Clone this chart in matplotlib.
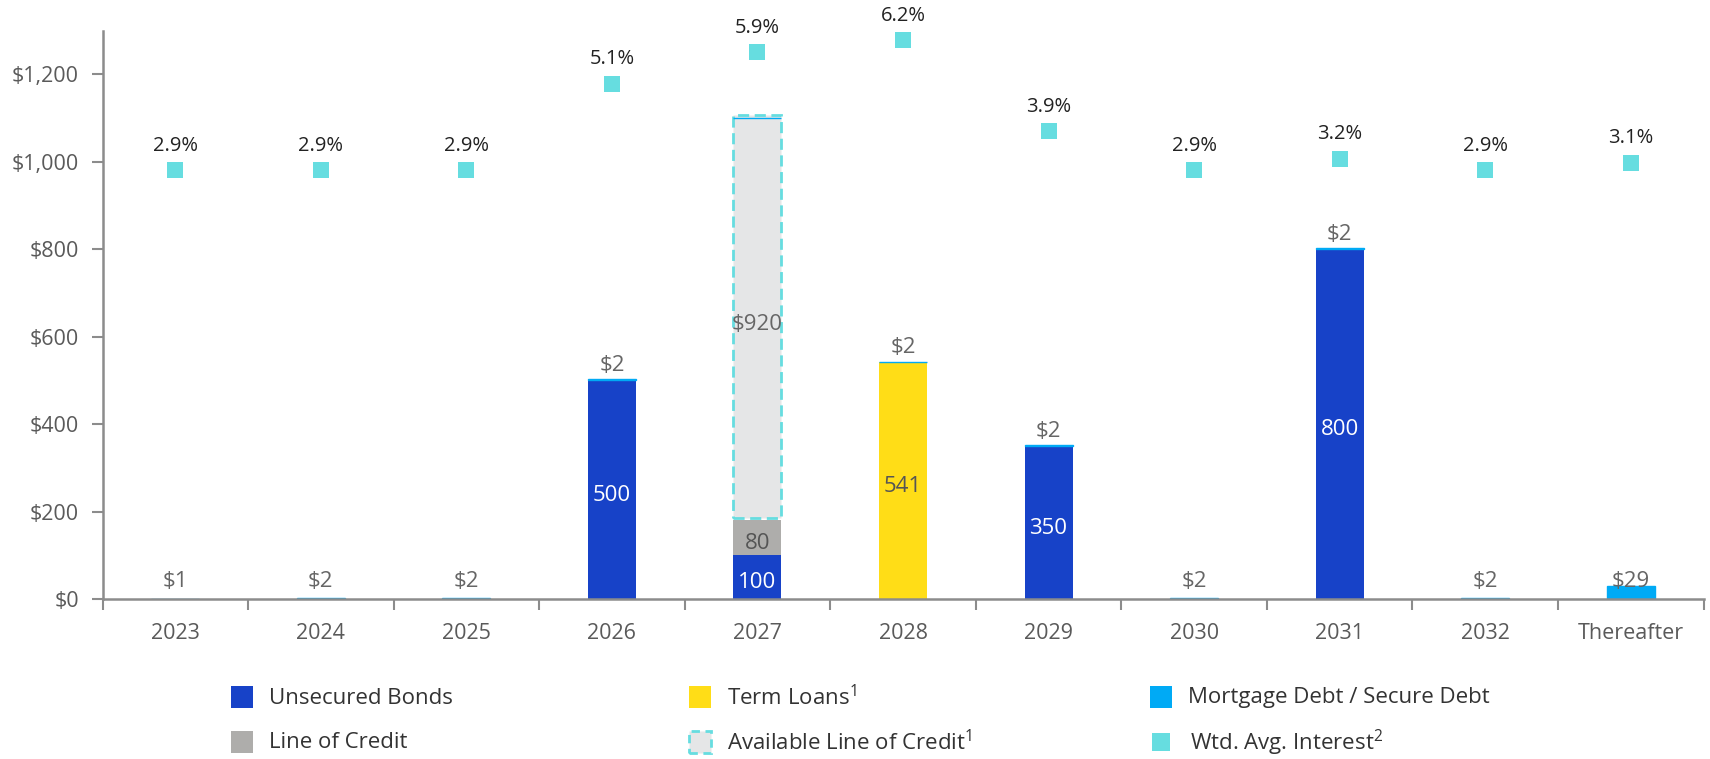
import matplotlib
matplotlib.use("Agg")
import matplotlib.pyplot as plt
from matplotlib.patches import Rectangle
import numpy as np

plt.rcParams['font.family'] = ['Open Sans', 'DejaVu Sans']
plt.rcParams['mathtext.fontset'] = 'custom'
plt.rcParams['mathtext.rm'] = 'Open Sans'
plt.rcParams['mathtext.it'] = 'Open Sans'

# ---------------- data ----------------
categories = ["2023", "2024", "2025", "2026", "2027", "2028", "2029",
              "2030", "2031", "2032", "Thereafter"]
unsecured_bonds = [0, 0, 0, 500, 100, 0, 350, 0, 800, 0, 0]
term_loans = [0, 0, 0, 0, 0, 541, 0, 0, 0, 0, 0]
line_of_credit = [0, 0, 0, 0, 80, 0, 0, 0, 0, 0, 0]
available_line_of_credit = [0, 0, 0, 0, 920, 0, 0, 0, 0, 0, 0]
mortgage_debt = [1, 2, 2, 2, 0, 2, 2, 2, 2, 2, 29]
wtd_avg_interest = [2.9, 2.9, 2.9, 5.1, 5.9, 6.2, 3.9, 2.9, 3.2, 2.9, 3.1]
y_ticks = [0, 200, 400, 600, 800, 1000, 1200]
y_tick_labels = ["$0", "$200", "$400", "$600", "$800", "$1,000", "$1,200"]

# ---------------- style ----------------
C_BONDS = "#1742C8"
C_TERM = "#FFDD17"
C_MORT = "#00AAF5"
C_LOC = "#AEADAB"
C_AVAIL = "#E5E6E7"
C_CYAN = "#66DDE0"
AXIS_C = "#8C8C8C"
TXT_C = "#5A5A5A"
FS = 15.5

W, H = 1710, 759
fig = plt.figure(figsize=(W / 100, H / 100), dpi=100)
ax = fig.add_axes([102.5 / W, 1 - 599 / H, (1703.5 - 102.5) / W, (599 - 30.5) / H])

x = np.arange(len(categories))
bw = 0.33

b1 = np.array(unsecured_bonds, float)
b2 = np.array(term_loans, float)
b3 = np.array(line_of_credit, float)
b4 = np.array(available_line_of_credit, float)
b5 = np.array(mortgage_debt, float)

ax.bar(x, b1, bw, color=C_BONDS, zorder=2)
ax.bar(x, b2, bw, bottom=b1, color=C_TERM, zorder=2)
ax.bar(x, b3, bw, bottom=b1 + b2, color=C_LOC, zorder=2)
base4 = b1 + b2 + b3
for i in range(len(x)):
    if b4[i] > 0:
        ax.bar(x[i], b4[i], bw, bottom=base4[i] + 6, color=C_AVAIL,
               edgecolor=C_CYAN, linestyle=(0, (4, 2)), linewidth=2, zorder=2)
base5 = b1 + b2 + b3 + b4
ax.bar(x, b5, bw, bottom=base5, color=C_MORT, edgecolor=C_MORT,
       linewidth=1.0, zorder=2)

# inside labels
def inside(vals, bottoms, color, fmt="{:g}"):
    for i, (v, b) in enumerate(zip(vals, bottoms)):
        if v > 0:
            ax.annotate(fmt.format(v), (x[i], b + v / 2), xytext=(0, -4),
                        textcoords="offset points", ha="center", va="center",
                        color=color, fontsize=16, zorder=5)

inside(b1, np.zeros_like(b1), "white")
inside(b2, b1, "#555555")
inside(b3, b1 + b2, "#555555")
inside(b4, base4, "#666666", fmt="${:g}")

# mortgage labels
for i, v in enumerate(b5):
    if v > 0:
        total = base5[i] + v
        ypos = total + 32 if total > 100 else 40
        ax.text(x[i], ypos, f"${v:g}", ha="center", va="center",
                color="#666666", fontsize=16, zorder=5)

ax.set_xlim(-0.5, len(categories) - 0.5)
ax.set_ylim(0, 1300)
ax.set_yticks(y_ticks)
ax.set_yticklabels(y_tick_labels)
ax.set_xticks(x)
ax.set_xticklabels(categories)
ax.set_xticks(np.arange(-0.5, len(categories)), minor=True)

for s in ["top", "right"]:
    ax.spines[s].set_visible(False)
for s in ["left", "bottom"]:
    ax.spines[s].set_color(AXIS_C)
    ax.spines[s].set_linewidth(1.8)

ax.tick_params(axis="y", length=8, width=1.5, color=AXIS_C, pad=9,
               labelcolor=TXT_C, labelsize=FS)
ax.tick_params(axis="x", which="major", length=0, pad=17,
               labelcolor=TXT_C, labelsize=FS)
ax.tick_params(axis="x", which="minor", length=8, width=1.5, color=AXIS_C)

# weighted avg interest on secondary scale
ax2 = ax.twinx()
ax2.set_ylim(-7.97, 6.45)
ax2.set_axis_off()
ax2.plot(x, wtd_avg_interest, linestyle="none", marker="s", markersize=11,
         color=C_CYAN, markeredgewidth=0, zorder=3)
for i, r in enumerate(wtd_avg_interest):
    ax2.annotate(f"{r:.1f}%", (x[i], r), xytext=(0, 17.5),
                 textcoords="offset points", ha="center", va="center",
                 color="#222222", fontsize=14.5)

# ---------------- legend (manual) ----------------
def fx(px):
    return px / W

def fy(py):
    return 1 - py / H

legend_items = [
    ("Unsecured Bonds", C_BONDS, None, 231, 697),
    ("Term Loans$^{1}$", C_TERM, None, 689, 697),
    ("Mortgage Debt / Secure Debt", C_MORT, None, 1150, 697),
    ("Line of Credit", C_LOC, None, 231, 742),
    ("Available Line of Credit$^{1}$", C_AVAIL, C_CYAN, 689, 742),
    ("Wtd. Avg. Interest$^{2}$", C_CYAN, None, 1152, 742),
]
for label, fc, ec, hx, hy in legend_items:
    s = 22 if "Wtd" not in label else 18
    if ec is None:
        rect = Rectangle((fx(hx), fy(hy + s / 2)), fx(s), s / H,
                         transform=fig.transFigure, facecolor=fc,
                         edgecolor="none")
    else:
        rect = Rectangle((fx(hx), fy(hy + s / 2)), fx(s), s / H,
                         transform=fig.transFigure, facecolor=fc,
                         edgecolor=ec, linestyle=(0, (3, 2)), linewidth=2)
    fig.add_artist(rect)
    fig.text(fx(hx + 38), fy(hy + 1), label, ha="left", va="center",
             fontsize=16, color="#333333")

fig.savefig("out.png", dpi=100)
